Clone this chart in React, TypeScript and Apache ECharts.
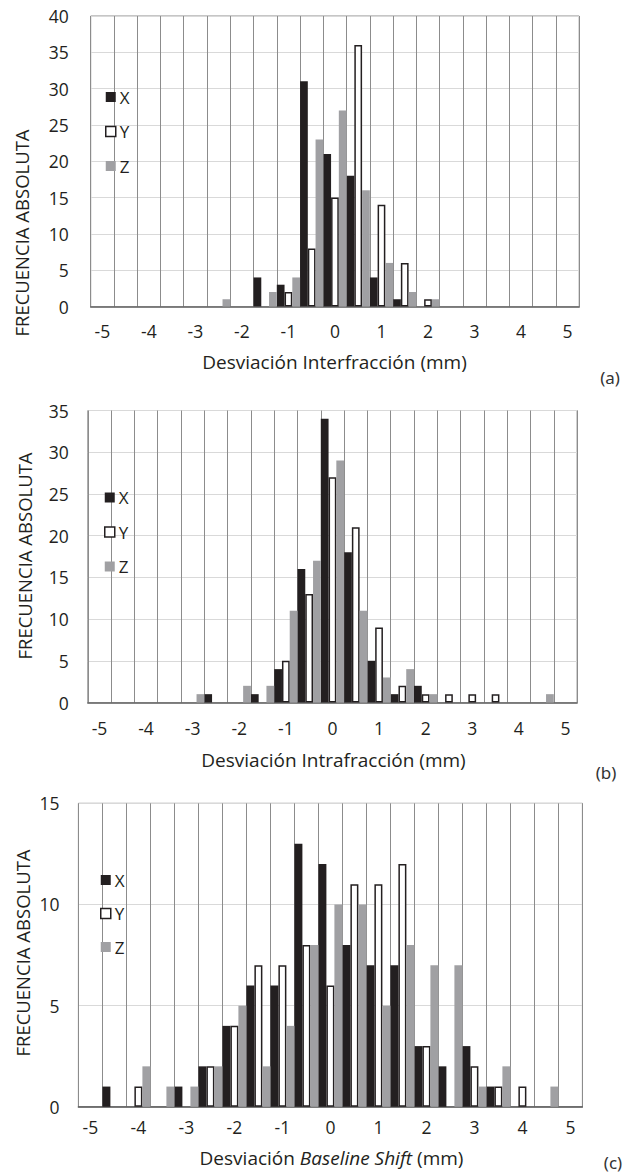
import React, { useEffect, useRef } from "react";
import * as echarts from "echarts";

// ---------- DATA ----------
const categories = ["-5","-4.5","-4","-3.5","-3","-2.5","-2","-1.5","-1","-0.5","0","0.5","1","1.5","2","2.5","3","3.5","4","4.5","5"];

const seriesNames = ["X", "Y", "Z"];

// (a) Desviación Interfracción
const interX = [0,0,0,0,0,0,0,4,3,31,21,18,4,1,0,0,0,0,0,0,0];
const interY = [0,0,0,0,0,0,0,0,2,8,15,36,14,6,1,0,0,0,0,0,0];
const interZ = [0,0,0,0,0,1,0,2,4,23,27,16,6,2,1,0,0,0,0,0,0];

// (b) Desviación Intrafracción
const intraX = [0,0,0,0,0,1,0,1,4,16,34,18,5,1,2,0,0,0,0,0,0];
const intraY = [0,0,0,0,0,0,0,0,5,13,27,21,9,2,1,1,1,1,0,0,0];
const intraZ = [0,0,0,0,1,0,2,2,11,17,29,11,3,4,1,0,0,0,0,1,0];

// (c) Desviación Baseline Shift
const shiftX = [0,1,0,0,1,2,4,6,6,13,12,8,7,7,3,2,3,1,0,0,0];
const shiftY = [0,0,1,0,0,2,4,7,7,8,6,11,11,12,3,0,2,1,1,0,0];
const shiftZ = [0,0,2,1,1,2,5,2,4,8,10,10,5,8,7,7,1,2,0,1,0];

const yMaxima = [40, 35, 15];
const yStep = 5;
const panelLetters = ["(a)", "(b)", "(c)"];
const yTitle = "FRECUENCIA ABSOLUTA";

// ---------- STYLE / LAYOUT ----------
const FONT = '"Open Sans", "Noto Sans", sans-serif';
const TEXT = "#231f20";
const COL_X = "#231f20";
const COL_Z = "#a0a0a3";

const panels = [
  { data: [interX, interY, interZ], grid: { left: 90.7, top: 16, width: 488.5, height: 290.5 }, yLabelMargin: 22, xLabelMargin: 15,
    legend: { left: 105, top: 88.5, gap: 17.5 }, yTitlePos: [21.7, 233], xTitlePos: [334.5, 361.5], letterPos: [610, 377] },
  { data: [intraX, intraY, intraZ], grid: { left: 87.8, top: 410.5, width: 489.3, height: 292 }, yLabelMargin: 19, xLabelMargin: 16,
    legend: { left: 104, top: 489, gap: 17.5 }, yTitlePos: [24, 556], xTitlePos: [333.5, 760], letterPos: [606, 772] },
  { data: [shiftX, shiftY, shiftZ], grid: { left: 78.4, top: 803.3, width: 504, height: 303.5 }, yLabelMargin: 19, xLabelMargin: 11,
    legend: { left: 100, top: 871.5, gap: 16.5 }, yTitlePos: [22, 953], xTitlePos: [331.5, 1158], letterPos: [613, 1162] },
];

function seriesStyle(k: number) {
  if (k === 0) return { color: COL_X };
  if (k === 1) return { color: "#ffffff", borderColor: COL_X, borderWidth: 1.5 };
  return { color: COL_Z };
}

export default function App() {
  const ref = useRef<HTMLDivElement>(null);
  useEffect(() => {
    if (!ref.current) return;
    const chart = echarts.init(ref.current, null, { renderer: "svg" });

    const grid = panels.map((p) => ({
      ...p.grid,
      show: true,
      borderColor: "#8c8c8c",
      borderWidth: 1,
      backgroundColor: "transparent",
      containLabel: false,
    }));

    const xAxis = panels.map((p, i) => ({
      type: "category",
      gridIndex: i,
      data: categories,
      boundaryGap: true,
      axisLine: { show: true, lineStyle: { color: "#595959", width: 1.5 } },
      axisTick: { show: false },
      axisLabel: { interval: 1, margin: p.xLabelMargin, fontSize: 17.5, fontFamily: FONT, color: TEXT },
      splitLine: { show: true, interval: 0, lineStyle: { color: "#8c8c8c", width: 1 } },
    }));

    const yAxis = panels.map((p, i) => ({
      type: "value",
      gridIndex: i,
      min: 0,
      max: yMaxima[i],
      interval: yStep,
      axisLine: { show: false },
      axisTick: { show: false },
      axisLabel: { margin: p.yLabelMargin, fontSize: 17.5, fontFamily: FONT, color: TEXT },
      splitLine: { show: true, lineStyle: { color: "#d9d9d9", width: 1.2 } },
    }));

    const series: any[] = [];
    panels.forEach((p, i) => {
      p.data.forEach((vals, k) => {
        series.push({
          type: "bar",
          name: seriesNames[k],
          xAxisIndex: i,
          yAxisIndex: i,
          // empty bins are left undrawn (no zero-height marks on the axis)
          data: vals.map((v) => (v === 0 ? "-" : v)),
          barGap: "0%",
          barCategoryGap: "0%",
          itemStyle: seriesStyle(k),
          emphasis: { disabled: true },
        });
      });
    });

    const legend = panels.map((p) => ({
      orient: "vertical",
      left: p.legend.left,
      top: p.legend.top,
      padding: 0,
      itemGap: p.legend.gap,
      itemWidth: 10,
      itemHeight: 10,
      icon: "rect",
      selectedMode: false,
      textStyle: { fontSize: 17, fontFamily: FONT, color: TEXT, lineHeight: 17, padding: [0, 0, 0, -1] },
      data: seriesNames.map((n, k) => ({ name: n, itemStyle: seriesStyle(k) })),
    }));

    const graphic: any[] = [];
    panels.forEach((p, i) => {
      graphic.push({
        type: "text",
        x: p.yTitlePos[0],
        y: p.yTitlePos[1],
        rotation: Math.PI / 2,
        style: { text: yTitle, fontSize: 18.5, fontFamily: FONT, fill: TEXT, align: "center", verticalAlign: "middle" },
      });
      const xTitleText =
        i === 0 ? "{n|Desviación Interfracción (mm)}" :
        i === 1 ? "{n|Desviación Intrafracción (mm)}" :
        "{n|Desviación }{it|Baseline Shift}{n| (mm)}";
      graphic.push({
        type: "text",
        x: p.xTitlePos[0],
        y: p.xTitlePos[1],
        style: {
          text: xTitleText,
          align: "center",
          verticalAlign: "middle",
          rich: {
            n: { fontSize: 19, fontFamily: FONT, fill: TEXT, color: TEXT },
            it: { fontSize: 19, fontFamily: FONT, fontStyle: "italic", fill: TEXT, color: TEXT },
          },
        },
      });
      graphic.push({
        type: "text",
        x: p.letterPos[0],
        y: p.letterPos[1],
        style: { text: panelLetters[i], fontSize: 17, fontFamily: '"Noto Sans", sans-serif', fill: "#333", align: "center", verticalAlign: "middle" },
      });
    });

    chart.setOption({
      animation: false,
      backgroundColor: "#ffffff",
      grid,
      xAxis,
      yAxis,
      legend,
      series,
      graphic,
    } as any);

    return () => chart.dispose();
  }, []);

  return (
    <div
      ref={ref}
      style={{ position: "absolute", left: 0, top: 0, width: 632, height: 1175, background: "#fff" }}
    />
  );
}
